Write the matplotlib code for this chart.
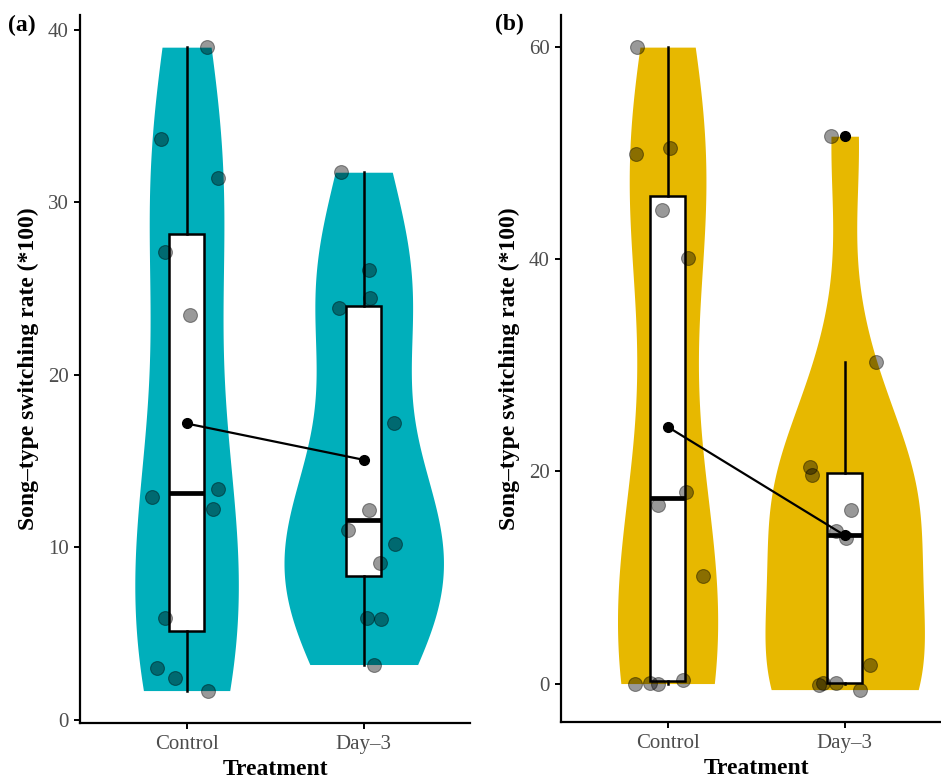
import numpy as np
import matplotlib
matplotlib.use("Agg")
import matplotlib.pyplot as plt

plt.rcParams['font.family'] = ['Liberation Serif', 'DejaVu Serif']

groups = ["Control", "Day–3"]
colors = {"a": "#00AFBB", "b": "#E7B800"}

# panel (a): song-type switching rate, points as read (y) with their jittered x
a_ctrl = [39.0, 33.7, 31.4, 27.1, 23.5, 12.9, 13.4, 12.2, 5.9, 3.0, 2.4, 1.7]
a_ctrl_x = [1.114, 0.855, 1.177, 0.878, 1.019, 0.804, 1.177, 1.148, 0.878, 0.832, 0.934, 1.12]
a_day3 = [31.75, 26.07, 24.45, 23.87, 17.24, 12.19, 11.03, 10.21, 9.11, 5.93, 5.85, 3.21]
a_day3_x = [1.870, 2.028, 2.038, 1.859, 2.169, 2.030, 1.912, 2.177, 2.090, 2.019, 2.098, 2.056]

# panel (b)
b_ctrl = [60.0, 49.9, 50.5, 44.6, 40.1, 18.1, 16.8, 10.1, 0.0, 0.07, 0.0, 0.31]
b_ctrl_x = [0.830, 0.821, 1.013, 0.968, 1.115, 1.103, 0.945, 1.199, 0.816, 0.900, 0.947, 1.088]
b_day3 = [51.6, 30.3, 20.46, 19.68, 16.38, 14.34, 13.72, 1.79, 0.06, 0.06, -0.16, -0.57]
b_day3_x = [1.921, 2.179, 1.803, 1.818, 2.038, 1.949, 2.010, 2.145, 1.878, 1.953, 1.855, 2.085]

a_ticks = [0, 10, 20, 30, 40]
b_ticks = [0, 20, 40, 60]


def kde(vals, grid):
    v = np.asarray(vals)
    n = len(v)
    iqr = np.subtract(*np.percentile(v, [75, 25]))
    bw = 0.9 * min(v.std(ddof=1), iqr / 1.34) * n ** (-0.2)
    z = (grid[:, None] - v[None, :]) / bw
    return np.exp(-0.5 * z ** 2).sum(axis=1) / (n * bw * np.sqrt(2 * np.pi))


def panel(ax, data, xs, col, ticks):
    grids = [np.linspace(min(d), max(d), 512) for d in data]
    dens = [kde(d, g) for d, g in zip(data, grids)]
    dmax = max(d.max() for d in dens)
    for i, (g, d) in enumerate(zip(grids, dens)):
        w = 0.45 * d / dmax
        ax.fill_betweenx(g, i + 1 - w, i + 1 + w, color=col, lw=0, zorder=1)

    # rates can't be negative, the few values below 0 are only vertical jitter
    box_data = [np.clip(d, 0, None) for d in data]
    ax.boxplot(box_data, positions=[1, 2], widths=0.2, patch_artist=True,
               showcaps=False, whis=1.5,
               boxprops=dict(facecolor='white', edgecolor='black', lw=1.8),
               whiskerprops=dict(color='black', lw=1.8),
               medianprops=dict(color='black', lw=3.4),
               flierprops=dict(marker='o', markerfacecolor='black',
                               markeredgecolor='black', markersize=7),
               zorder=2)

    for d, x in zip(data, xs):
        ax.scatter(x, d, s=100, c='black', alpha=0.4, edgecolors='black',
                   linewidths=0.8, zorder=3)

    means = [np.mean(d) for d in data]
    ax.plot([1, 2], means, color='black', lw=1.6, marker='o', markersize=7,
            zorder=4)

    lo = min(min(d) for d in data)
    hi = max(max(d) for d in data)
    pad = 0.05 * (hi - lo)
    ax.set_ylim(lo - pad, hi + pad)
    ax.set_xlim(0.4, 2.6)
    ax.set_xticks([1, 2])
    ax.set_xticklabels(groups)
    ax.set_yticks(ticks)
    for s in ['top', 'right']:
        ax.spines[s].set_visible(False)
    for s in ['left', 'bottom']:
        ax.spines[s].set_linewidth(1.6)
    ax.tick_params(length=4.5, width=1.4, labelsize=15, labelcolor='#4d4d4d',
                   pad=4)
    ax.set_xlabel("Treatment", fontsize=17, fontweight='bold', va='center')
    ax.set_ylabel("Song–type switching rate (*100)", fontsize=17,
                  fontweight='bold', va='center')
    ax.xaxis.set_label_coords(0.5, -0.066)
    ax.yaxis.set_label_coords(-0.134, 0.5)


fig = plt.figure(figsize=(9.41, 7.81), dpi=100)
ax1 = fig.add_axes([0.0853, 0.0746, 0.4142, 0.9062])
ax2 = fig.add_axes([0.5965, 0.0759, 0.4141, 0.9049])

panel(ax1, [a_ctrl, a_day3], [a_ctrl_x, a_day3_x], colors["a"], a_ticks)
panel(ax2, [b_ctrl, b_day3], [b_ctrl_x, b_day3_x], colors["b"], b_ticks)

fig.text(22 / 941, 1 - 25 / 781, "(a)", fontsize=17, fontweight='bold',
         ha='center', va='center')
fig.text(509 / 941, 1 - 24 / 781, "(b)", fontsize=17, fontweight='bold',
         ha='center', va='center')

fig.savefig("out.png", dpi=100)
